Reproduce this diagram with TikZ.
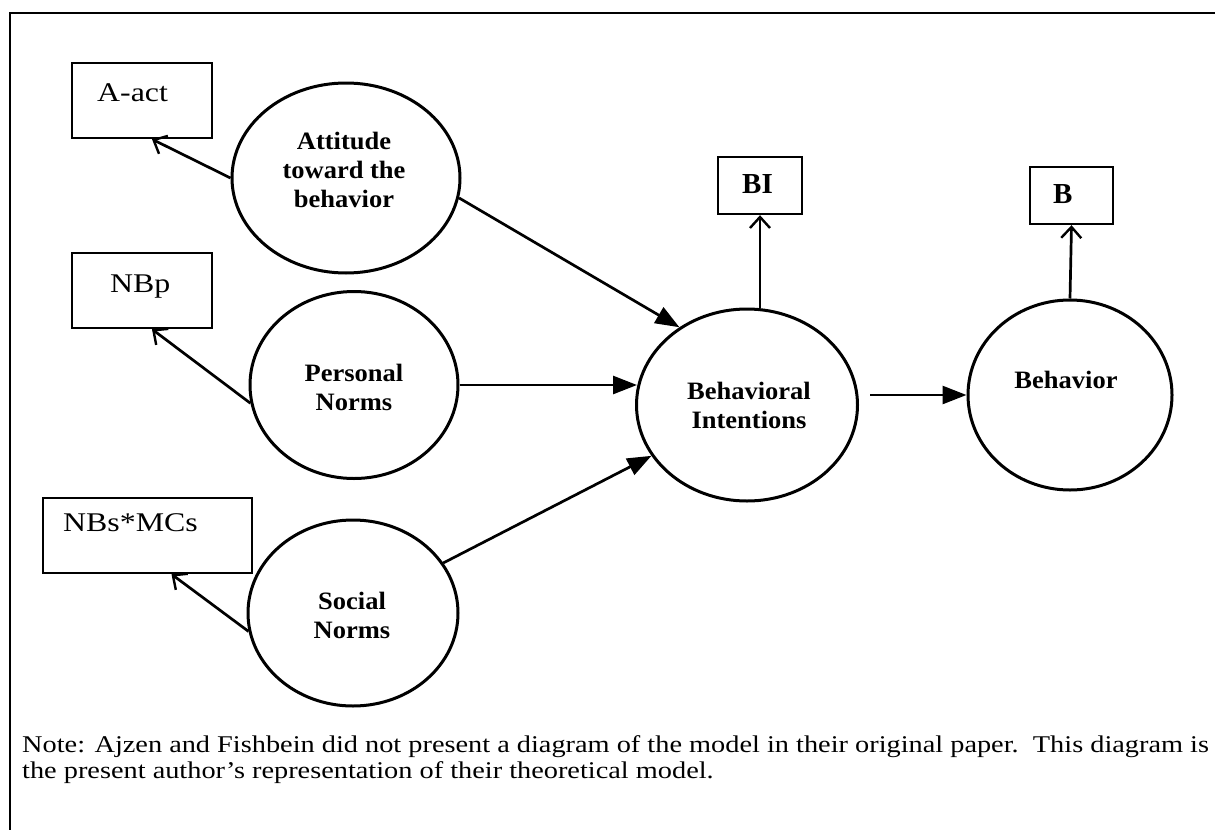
\documentclass[tikz,border=0pt]{standalone}
\usepackage{fontspec}
\setmainfont{Liberation Serif}
\newfontfamily\widefont[Ligatures=TeX,FakeStretch=1.18]{Liberation Serif}
\newfontfamily\labelfont[Ligatures=TeX,FakeStretch=1.06]{Liberation Serif}
\usetikzlibrary{arrows.meta,calc,shapes.geometric}

\tikzset{
  latent/.style={draw, ellipse, line width=3pt, inner sep=0pt},
  measure/.style={draw, rectangle, line width=2.4pt, inner sep=0pt},
  boxtext/.style={inner sep=0pt, anchor=base west, font=\widefont\fontsize{27}{30}\selectfont},
  boldbox/.style={inner sep=0pt, anchor=base west, font=\fontsize{29}{32}\selectfont\bfseries},
  latenttext/.style={inner sep=0pt, align=center, font=\labelfont\fontsize{25}{29}\selectfont\bfseries},
  causal/.style={line width=2.7pt, -{Triangle[length=24pt,width=18pt]}},
  loading/.style={line width=2.7pt, -{Straight Barb[length=11pt,width=20pt,line width=2.4pt]}},
  frameline/.style={line width=2.2pt},
  notetext/.style={inner sep=0pt, anchor=base west, font=\widefont\fontsize{24}{26}\selectfont}
}

\begin{document}
\begin{tikzpicture}[x=1pt,y=-1pt]
  \useasboundingbox (0,0) rectangle (1215,830);

  % open frame: top and left edges only
  \coordinate (ftl) at (10,13);
  \coordinate (ftr) at (1215,13);
  \coordinate (fbl) at (10,830);
  \draw[frameline] (ftr) -- (ftl) -- (fbl);

  % latent constructs
  \node[latent, minimum width=228pt, minimum height=190pt] (att) at (346,178) {};
  \node[latent, minimum width=208pt, minimum height=187pt] (pn)  at (354,385) {};
  \node[latent, minimum width=210pt, minimum height=186pt] (sn)  at (353,613) {};
  \node[latent, minimum width=221pt, minimum height=192pt] (bi)  at (747,405) {};
  \node[latent, minimum width=204pt, minimum height=190pt] (beh) at (1070,395) {};

  \node[latenttext] (att-t) at (344,170) {Attitude\\toward the\\behavior};
  \node[latenttext] (pn-t)  at (354,387) {Personal\\Norms};
  \node[latenttext] (sn-t)  at (352,615) {Social\\Norms};
  \node[latenttext] (bi-t)  at (749,405) {Behavioral\\Intentions};
  \node[latenttext, anchor=base] (beh-t) at (1066,388) {Behavior};

  % measures
  \node[measure, minimum width=140pt, minimum height=75pt] (aact)  at (142,100.5) {};
  \node[measure, minimum width=140pt, minimum height=75pt] (nbp)   at (142,290.5) {};
  \node[measure, minimum width=209pt, minimum height=75pt] (nbs)   at (147.5,535.5) {};
  \node[measure, minimum width=84pt,  minimum height=57pt] (bibox) at (760,185.5) {};
  \node[measure, minimum width=83pt,  minimum height=57pt] (bbox)  at (1071.5,195.5) {};

  \node[boxtext] (aact-t) at (97,101)  {A-act};
  \node[boxtext] (nbp-t)  at (110,292) {NBp};
  \node[boxtext] (nbs-t)  at (63,531)  {NBs*MCs};
  \node[boldbox] (bi-l)   at (742,193) {BI};
  \node[boldbox] (b-l)    at (1053,203) {B};

  % measurement arrows
  \draw[loading] (att.180) -- ($(aact.south)+(10,0)$);
  \draw[loading] (pn.190)  -- ($(nbp.south)+(10,0)$);
  \draw[loading] (sn.190)  -- ($(nbs.south)+(24,0)$);
  \draw[loading] (bibox.south |- bi.north) -- (bibox.south);
  \draw[loading] (beh.north) -- (bbox.south);

  % structural paths
  \draw[causal] (att.-10) -- (bi.131);
  \draw[causal] (pn.east) -- ($(pn.east -| bi.west)+(2,0)$);
  \draw[causal] (sn.29) -- (bi.208);
  \draw[causal] ($(bi.east |- beh.west)+(11,0)$) -- (beh.west);

  % note
  \node[notetext] (note1) at (22,752) {Note: Ajzen and Fishbein did not present a diagram of the model in their original paper.\ \ This diagram is};
  \node[notetext] (note2) at (22,778) {the present author’s representation of their theoretical model.};
\end{tikzpicture}
\end{document}
